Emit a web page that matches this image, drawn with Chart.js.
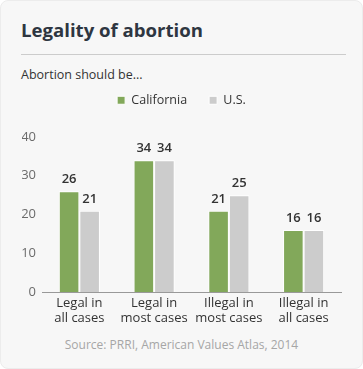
<!DOCTYPE html>
<html>
<head>
<meta charset="utf-8">
<script src="https://cdn.jsdelivr.net/npm/chart.js@4/dist/chart.umd.min.js"></script>
<style>
  body { margin: 0; background: #ffffff; font-family: "Open Sans", sans-serif; }
  .card {
    position: absolute; left: 0; top: 0; width: 361px; height: 367px;
    background: #f7f7f7; border: 1px solid #ececec; border-radius: 8px;
  }
  .title {
    position: absolute; left: 20px; top: 16px; margin: 0;
    font-size: 18.6px; font-weight: 700; color: #2e3641; white-space: nowrap;
  }
  .rule { position: absolute; left: 20px; top: 53px; width: 325px; height: 1px; background: #cccccc; }
  .sub { position: absolute; left: 20px; top: 65px; font-size: 12.5px; color: #333333; white-space: nowrap; }
  .source {
    position: absolute; left: 0; top: 335px; width: 361px; text-align: center;
    font-size: 12px; color: #a6a6a6; white-space: nowrap;
  }
  #wrap { position: absolute; left: 0; top: 71px; width: 361px; height: 261px; }
</style>
</head>
<body>
<div class="card">
  <div class="title">Legality of abortion</div>
  <div class="rule"></div>
  <div class="sub">Abortion should be...</div>
  <div id="wrap"><canvas id="chart"></canvas></div>
  <div class="source">Source: PRRI, American Values Atlas, 2014</div>
</div>
<script>
// データ
const categories = [["Legal in", "all cases"], ["Legal in", "most cases"], ["Illegal in", "most cases"], ["Illegal in", "all cases"]];
const californiaValues = [26, 34, 21, 16];
const usValues = [21, 34, 25, 16];
const yTicks = [0, 10, 20, 30, 40];

// 棒の上に数値を書く
const valueLabels = {
    id: "valueLabels",
    afterDatasetsDraw(chart) {
        const ctx = chart.ctx;
        ctx.save();
        ctx.font = "600 13px 'Open Sans'";
        ctx.fillStyle = "#333333";
        ctx.textAlign = "center";
        ctx.textBaseline = "bottom";
        chart.data.datasets.forEach((ds, i) => {
            chart.getDatasetMeta(i).data.forEach((bar, j) => {
                ctx.fillText(String(ds.data[j]), bar.x, bar.y - 5);
            });
        });
        ctx.restore();
    },
};

// 凡例の高さ固定
const legendHeight = {
    id: "legendHeight",
    beforeLayout(chart) {
        if (chart.legend && !chart.legend._patched) {
            const fit = chart.legend.fit;
            chart.legend.fit = function () {
                fit.call(this);
                this.height = 65;
            };
            chart.legend._patched = true;
        }
    },
};

new Chart(document.querySelector("#chart"), {
    type: "bar",
    data: {
        labels: categories,
        datasets: [
            {
                label: "California",
                data: californiaValues,
                backgroundColor: "#82a85a",
                borderColor: "#ffffff",
                borderWidth: 1,
            },
            {
                label: "U.S.",
                data: usValues,
                backgroundColor: "#cccccc",
                borderColor: "#ffffff",
                borderWidth: 1,
            },
        ],
    },
    options: {
        responsive: true,
        maintainAspectRatio: false,
        animation: false,
        layout: { padding: { left: 21, right: 21, top: 0, bottom: 0 } },
        datasets: { bar: { barPercentage: 1, categoryPercentage: 0.55 } },
        plugins: {
            legend: {
                position: "top",
                align: "center",
                labels: {
                    boxWidth: 8,
                    boxHeight: 8,
                    padding: 22,
                    color: "#333333",
                    font: { family: "'Open Sans'", size: 12.5 },
                },
            },
            tooltip: { enabled: false },
        },
        scales: {
            x: {
                grid: { display: false, drawTicks: false },
                border: { display: true, color: "#999999" },
                ticks: {
                    color: "#333333",
                    padding: 4,
                    font: { family: "'Open Sans'", size: 13, lineHeight: 1.15 },
                    maxRotation: 0,
                },
                afterFit(scale) { scale.height = 41; },
            },
            y: {
                min: 0,
                max: 40,
                afterBuildTicks(scale) { scale.ticks = yTicks.map(v => ({ value: v })); },
                grid: { display: false, drawTicks: false },
                border: { display: false },
                ticks: {
                    color: "#6b6b6b",
                    padding: 6,
                    font: { family: "'Open Sans'", size: 13 },
                },
                afterFit(scale) { scale.width = 20; },
            },
        },
    },
    plugins: [valueLabels, legendHeight],
});
</script>
</body>
</html>
